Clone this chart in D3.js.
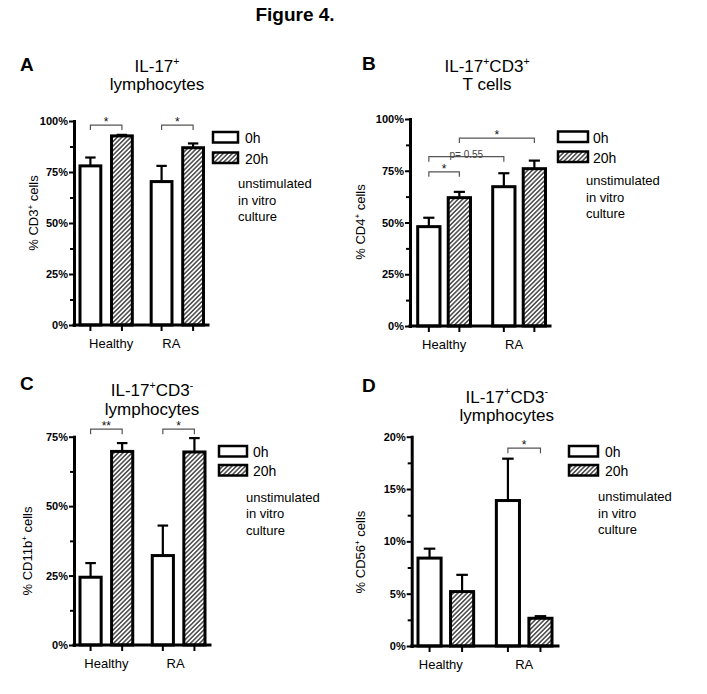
<!DOCTYPE html>
<html><head><meta charset="utf-8">
<script src="https://cdn.jsdelivr.net/npm/d3@7"></script>
<style>body{margin:0;background:#fff} svg{display:block;font-family:"Liberation Sans",Arial,sans-serif}</style>
</head><body><svg id="c" width="707" height="694"></svg>
<script>
// ---------------- data ----------------
const groups = ["Healthy", "RA"];
const times = ["0h", "20h"];
const legendNote = ["unstimulated", "in vitro", "culture"];

const aMean0h = [78, 70.3], aMean20h = [92.7, 86.9];
const aSem0h = [4.1, 7.7], aSem20h = [0.5, 2.1];
const aTicks = [0, 25, 50, 75, 100], aMinor = [12.5, 37.5, 62.5, 87.5];

const bMean0h = [48, 67.3], bMean20h = [62, 76];
const bSem0h = [4.3, 6.5], bSem20h = [2.8, 3.9];
const bTicks = [0, 25, 50, 75, 100], bMinor = [12.5, 37.5, 62.5, 87.5];

const cMean0h = [24.4, 32.2], cMean20h = [69.7, 69.5];
const cSem0h = [5.1, 10.8], cSem20h = [3.0, 5.0];
const cTicks = [0, 25, 50, 75], cMinor = [12.5, 37.5, 62.5];

const dMean0h = [8.4, 13.9], dMean20h = [5.2, 2.65];
const dSem0h = [0.9, 4.0], dSem20h = [1.6, 0.2];
const dTicks = [0, 5, 10, 15, 20], dMinor = [2.5, 7.5, 12.5, 17.5];

// significance brackets: [group A, time A, group B, time B, level (%), label]
const aSig = [["Healthy","0h","Healthy","20h",98,"*"],["RA","0h","RA","20h",98,"*"]];
const bSig = [["Healthy","0h","Healthy","20h",74.5,"*"],["Healthy","0h","RA","0h",81.8,"p= 0.55"],["Healthy","20h","RA","20h",90.8,"*"]];
const cSig = [["Healthy","0h","Healthy","20h",77.7,"**"],["RA","0h","RA","20h",77.7,"*"]];
const dSig = [["RA","0h","RA","20h",18.9,"*"]];

// ---------------- drawing ----------------
const svg = d3.select("#c");
const defs = svg.append("defs");
const pat = defs.append("pattern").attr("id","hatch").attr("patternUnits","userSpaceOnUse")
  .attr("width",3.2).attr("height",3.2).attr("patternTransform","rotate(45)");
pat.append("rect").attr("width",3.2).attr("height",3.2).attr("fill","#fff");
pat.append("line").attr("x1",0.8).attr("y1",0).attr("x2",0.8).attr("y2",3.2)
  .attr("stroke","#2a2a2a").attr("stroke-width",1.3);

svg.append("text").attr("x",295).attr("y",21).attr("text-anchor","middle")
  .attr("font-size",19).attr("font-weight","bold").text("Figure 4.");

function richText(sel, segs, size){
  let shift = 0;
  segs.forEach(s=>{
    const sup = Array.isArray(s);
    const t = sup ? s[0] : s;
    const ts = sel.append("tspan").text(t);
    const target = sup ? -size*0.42 : 0;
    if (target !== shift) { ts.attr("dy", target - shift); shift = target; }
    if (sup) ts.attr("font-size", size*0.62);
  });
}

function drawPanel(p){
  const g = svg.append("g");
  const y = d3.scaleLinear().domain([0,p.max]).range([p.yBot,p.yTop]);
  const xg = d3.scaleBand().domain(groups).range([p.bx0,p.bx1]).paddingInner(p.pg);
  const xt = d3.scaleBand().domain(times).range([0,xg.bandwidth()]).paddingInner(p.pt);
  const bw = xt.bandwidth();
  const cx = (gn,t)=> xg(gn)+xt(t)+bw/2;
  const rows = groups.flatMap((gn,i)=>[
    {g:gn,t:"0h",m:p.mean0[i],s:p.sem0[i]},
    {g:gn,t:"20h",m:p.mean20[i],s:p.sem20[i]}]);

  // panel letter
  g.append("text").attr("x",p.lx).attr("y",p.ly).attr("font-size",19).attr("font-weight","bold").text(p.letter);
  // title
  p.title.forEach((line,i)=>{
    const t = g.append("text").attr("x",p.tx).attr("y",p.ty[i]).attr("text-anchor","middle").attr("font-size",17);
    richText(t,line,17);
  });
  // y label
  const yl = g.append("text").attr("transform",`translate(${p.ylx},${p.yly}) rotate(-90)`)
    .attr("text-anchor","middle").attr("font-size",13);
  richText(yl,p.ylab,13);

  // error bars
  g.selectAll("g.err").data(rows).join("g").attr("class","err").each(function(d){
    const e = d3.select(this), x = cx(d.g,d.t);
    e.append("line").attr("x1",x).attr("x2",x).attr("y1",y(d.m)).attr("y2",y(d.m+d.s))
      .attr("stroke","#000").attr("stroke-width",2.2);
    e.append("line").attr("x1",x-bw/4).attr("x2",x+bw/4).attr("y1",y(d.m+d.s)).attr("y2",y(d.m+d.s))
      .attr("stroke","#000").attr("stroke-width",2.2);
  });
  // bars
  g.selectAll("rect.bar").data(rows).join("rect").attr("class","bar")
    .attr("x",d=>xg(d.g)+xt(d.t)).attr("y",d=>y(d.m))
    .attr("width",bw).attr("height",d=>p.yBot-y(d.m))
    .attr("fill",d=>d.t==="0h"?"#fff":"url(#hatch)")
    .attr("stroke","#000").attr("stroke-width",3);

  // y axis
  const ya = g.append("g").attr("transform",`translate(${p.x0},0)`)
    .call(d3.axisLeft(y).tickValues(p.ticks).tickFormat(d=>d+"%").tickSize(5).tickSizeOuter(0).tickPadding(1));
  ya.select(".domain").attr("stroke-width",3).attr("stroke-linecap","square");
  ya.selectAll(".tick line").attr("stroke-width",2);
  ya.selectAll(".tick text").attr("font-size",11).attr("font-weight","bold").attr("font-family","Liberation Sans, Arial, sans-serif").attr("fill","#000");
  const ym = g.append("g").attr("transform",`translate(${p.x0},0)`)
    .call(d3.axisLeft(y).tickValues(p.minor).tickFormat("").tickSize(4));
  ym.select(".domain").remove();
  ym.selectAll(".tick line").attr("stroke-width",2);

  // x axis
  g.append("line").attr("x1",p.x0).attr("x2",p.x1).attr("y1",p.yBot).attr("y2",p.yBot)
    .attr("stroke","#000").attr("stroke-width",3).attr("stroke-linecap","square");
  g.selectAll("line.xt").data(rows).join("line").attr("class","xt")
    .attr("x1",d=>cx(d.g,d.t)).attr("x2",d=>cx(d.g,d.t))
    .attr("y1",p.yBot).attr("y2",p.yBot+6).attr("stroke","#000").attr("stroke-width",2);
  g.selectAll("text.cat").data(groups).join("text").attr("class","cat")
    .attr("x",(d,i)=>xg(d)+xg.bandwidth()/2+p.catOff[i]).attr("y",p.yBot+23)
    .attr("text-anchor","middle").attr("font-size",13).text(d=>d);

  // significance brackets
  p.sig.forEach(s=>{
    const xa = cx(s[0],s[1]), xb = cx(s[2],s[3]), yy = y(s[4]);
    g.append("path").attr("d",`M${xa},${yy+5}V${yy}H${xb}V${yy+5}`)
      .attr("fill","none").attr("stroke","#555").attr("stroke-width",1.2);
    const star = s[5].startsWith("*");
    g.append("text").attr("x",(xa+xb)/2).attr("y",yy+1)
      .attr("text-anchor","middle").attr("font-size",star?12:10)
      .attr("fill",star?"#111":"#444").text(s[5]);
  });

  // legend
  times.forEach((t,i)=>{
    const ly = p.legY[i];
    g.append("rect").attr("x",p.legX).attr("y",ly).attr("width",p.legW).attr("height",10.5)
      .attr("fill",t==="0h"?"#fff":"url(#hatch)").attr("stroke","#000").attr("stroke-width",2.5);
    g.append("text").attr("x",p.legTx).attr("y",ly+11).attr("font-size",14).text(t);
  });
  legendNote.forEach((t,i)=>{
    g.append("text").attr("x",p.legTx-7).attr("y",p.noteY[i]).attr("font-size",13).text(t);
  });
}

const panels = [
  {letter:"A", lx:20, ly:71, title:[["IL-17",["+"]],["lymphocytes"]], tx:157, ty:[72,90],
   ylab:["% CD3",["+"]," cells"], ylx:38, yly:213,
   x0:74, x1:208, yTop:121, yBot:325, bx0:80, bx1:203.5, pg:0.265, pt:0.34, max:100,
   mean0:aMean0h, mean20:aMean20h, sem0:aSem0h, sem20:aSem20h, ticks:aTicks, minor:aMinor, sig:aSig,
   legX:213, legW:25, legY:[132,152.5], legTx:245, noteY:[188,204.5,221], catOff:[5,-6]},
  {letter:"B", lx:362, ly:70, title:[["IL-17",["+"],"CD3",["+"]],["T cells"]], tx:487, ty:[72,90],
   ylab:["% CD4",["+"]," cells"], ylx:365, yly:222,
   x0:410, x1:550, yTop:119, yBot:326, bx0:417.7, bx1:545.5, pg:0.296, pt:0.27, max:100,
   mean0:bMean0h, mean20:bMean20h, sem0:bSem0h, sem20:bSem20h, ticks:bTicks, minor:bMinor, sig:bSig,
   legX:558, legW:30, legY:[131.5,151.5], legTx:593, noteY:[185,201.5,218], catOff:[0,-5]},
  {letter:"C", lx:20, ly:390, title:[["IL-17",["+"],"CD3",["-"]],["lymphocytes"]], tx:152, ty:[396,414.5],
   ylab:["% CD11b",["+"]," cells"], ylx:32, yly:551,
   x0:74, x1:210, yTop:436.7, yBot:645, bx0:80, bx1:205, pg:0.27, pt:0.33, max:75,
   mean0:cMean0h, mean20:cMean20h, sem0:cSem0h, sem20:cSem20h, ticks:cTicks, minor:cMinor, sig:cSig,
   legX:219, legW:28, legY:[446,465], legTx:253, noteY:[501.5,518,535], catOff:[0,-3]},
  {letter:"D", lx:362, ly:392, title:[["IL-17",["+"],"CD3",["-"]],["lymphocytes"]], tx:506.7, ty:[402.5,421],
   ylab:["% CD56",["+"]," cells"], ylx:365, yly:552,
   x0:411.7, x1:558, yTop:436.7, yBot:646, bx0:418, bx1:552, pg:0.29, pt:0.29, max:20,
   mean0:dMean0h, mean20:dMean20h, sem0:dSem0h, sem20:dSem20h, ticks:dTicks, minor:dMinor, sig:dSig,
   legX:569, legW:29, legY:[446,465], legTx:605, noteY:[501,517.5,534], catOff:[-5,0]}
];
panels.forEach(drawPanel);
</script></body></html>
